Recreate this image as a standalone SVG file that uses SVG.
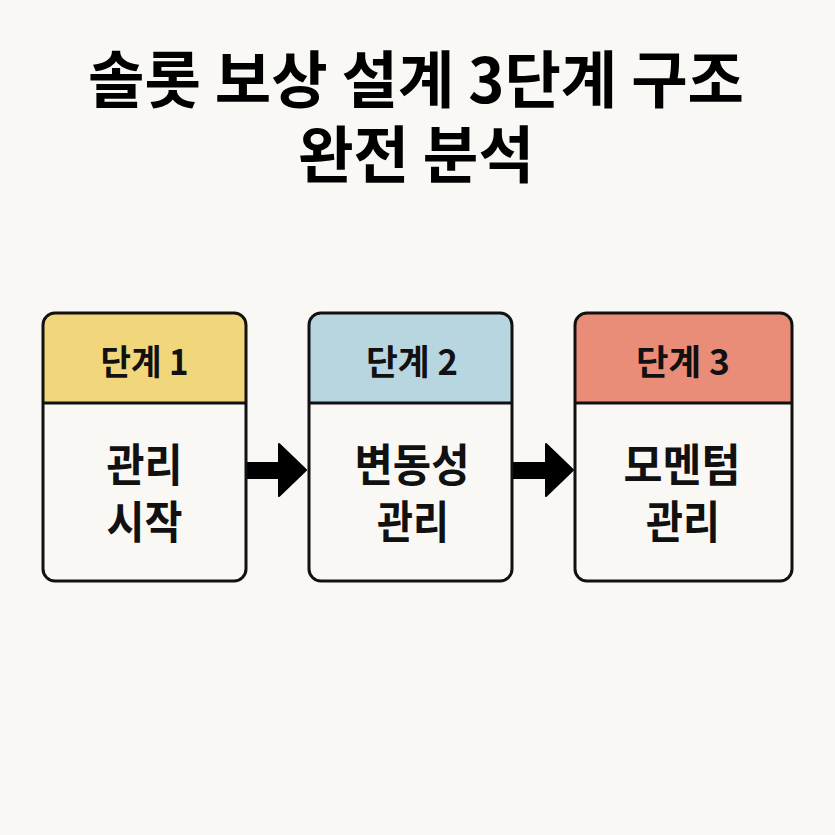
<svg xmlns="http://www.w3.org/2000/svg" width="835" height="835" viewBox="0 0 835 835">
<style>
.title{font-family:"Noto Sans CJK KR","Noto Sans",sans-serif;font-weight:700;font-size:62px;fill:#000;text-anchor:middle}
.hdr{font-family:"Noto Sans CJK KR","Noto Sans",sans-serif;font-weight:700;font-size:35px;fill:#111;text-anchor:middle}
.body{font-family:"Noto Sans CJK KR","Noto Sans",sans-serif;font-weight:700;font-size:45px;fill:#111;text-anchor:middle}
.frame{fill:none;stroke:#111;stroke-width:3}
.sep{stroke:#111;stroke-width:3}
.arrow{fill:#000;stroke:#000;stroke-width:2;stroke-linejoin:round}
</style>
<rect width="835" height="835" fill="#FAF8F5"/>
<g id="title">
<text class="title" x="416" y="103" textLength="656" lengthAdjust="spacingAndGlyphs">솔롯 보상 설계 3단계 구조</text>
<text class="title" x="416" y="178" textLength="236" lengthAdjust="spacingAndGlyphs">완전 분석</text>
</g>
<g id="connectors">
<path class="arrow" d="M247,463 H279 V444 L306,470 L279,496 V478 H247 Z"/>
<path class="arrow" d="M513,463 H546 V444 L573,470 L546,496 V478 H513 Z"/>
</g>
<g id="stage1">
<path d="M43,403 V325 A12,12 0 0 1 55,313 H234 A12,12 0 0 1 246,325 V403 Z" fill="#F2D67B"/>
<rect x="43" y="313" width="203" height="268" rx="12" fill="none"/>
<path d="M43,403 H246 V569 A12,12 0 0 1 234,581 H55 A12,12 0 0 1 43,569 Z" fill="#FAF8F5"/>
<line class="sep" x1="43" y1="403" x2="246" y2="403"/>
<rect class="frame" x="43" y="313" width="203" height="268" rx="12"/>
<text class="hdr" x="144.5" y="375" textLength="88" lengthAdjust="spacingAndGlyphs">단계 1</text>
<text class="body" x="144.5" y="482" textLength="76" lengthAdjust="spacingAndGlyphs">관리</text>
<text class="body" x="144.5" y="539" textLength="76" lengthAdjust="spacingAndGlyphs">시작</text>
</g>
<g id="stage2">
<path d="M309,403 V325 A12,12 0 0 1 321,313 H500 A12,12 0 0 1 512,325 V403 Z" fill="#B8D6DF"/>
<line class="sep" x1="309" y1="403" x2="512" y2="403"/>
<rect class="frame" x="309" y="313" width="203" height="268" rx="12"/>
<text class="hdr" x="412" y="375" textLength="92" lengthAdjust="spacingAndGlyphs">단계 2</text>
<text class="body" x="412" y="482" textLength="115" lengthAdjust="spacingAndGlyphs">변동성</text>
<text class="body" x="413" y="539" textLength="72" lengthAdjust="spacingAndGlyphs">관리</text>
</g>
<g id="stage3">
<path d="M575,403 V325 A12,12 0 0 1 587,313 H780 A12,12 0 0 1 792,325 V403 Z" fill="#E98D79"/>
<line class="sep" x1="575" y1="403" x2="792" y2="403"/>
<rect class="frame" x="575" y="313" width="217" height="268" rx="12"/>
<text class="hdr" x="683" y="375" textLength="94" lengthAdjust="spacingAndGlyphs">단계 3</text>
<text class="body" x="682" y="482" textLength="117" lengthAdjust="spacingAndGlyphs">모멘텀</text>
<text class="body" x="683" y="539" textLength="74" lengthAdjust="spacingAndGlyphs">관리</text>
</g>
</svg>
